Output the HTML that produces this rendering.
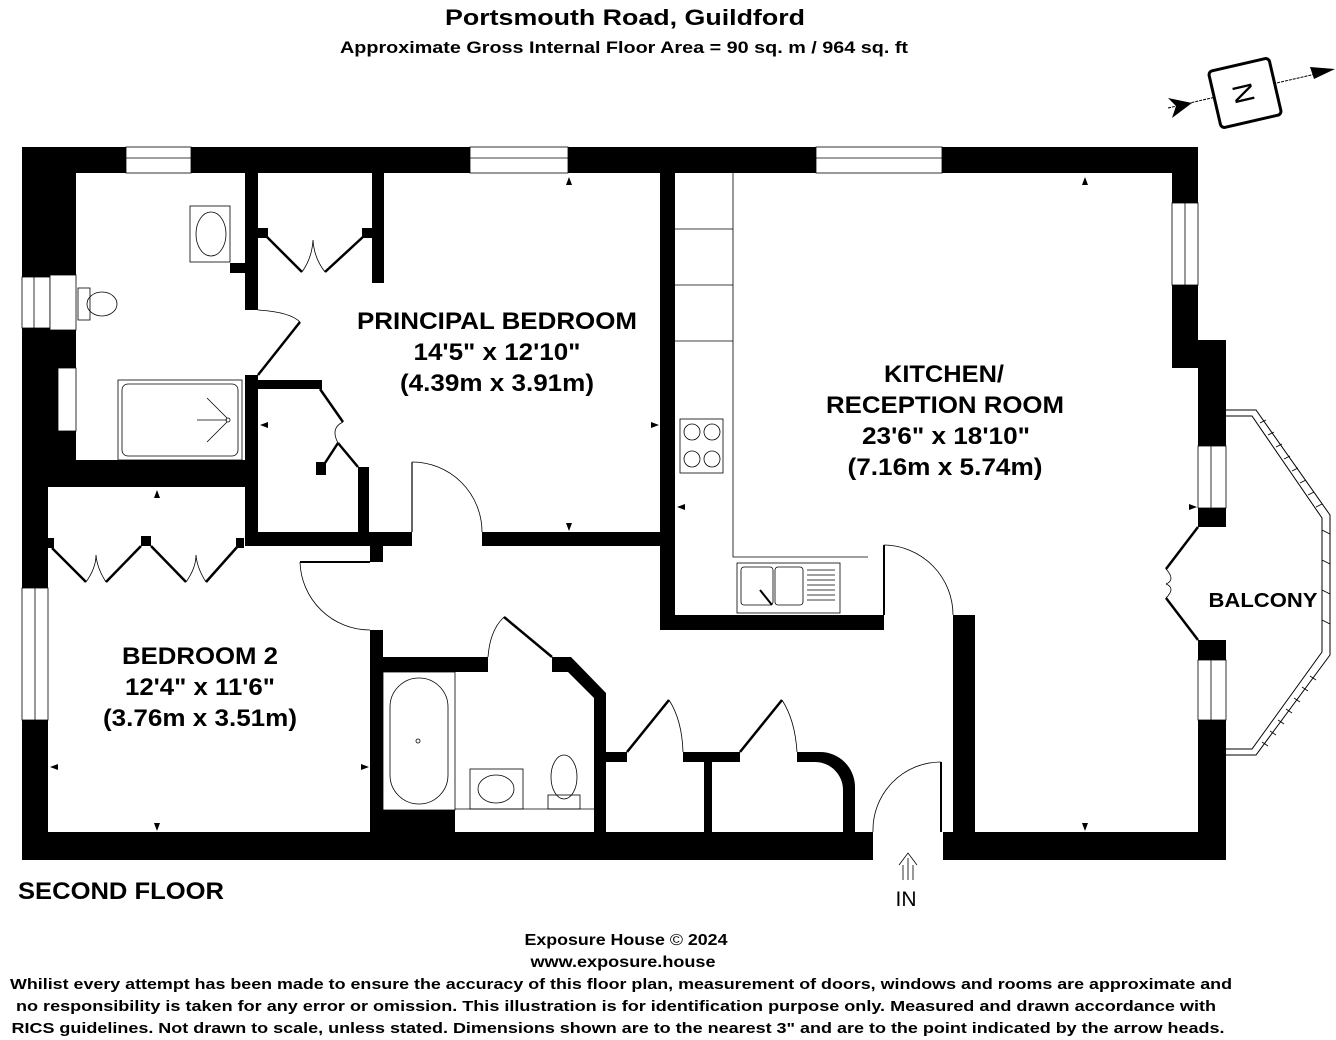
<!DOCTYPE html>
<html><head><meta charset="utf-8"><style>
html,body{margin:0;padding:0;background:#fff;}
svg{display:block;font-family:"Liberation Sans",Arial,sans-serif;}
</style></head><body>
<svg width="1336" height="1040" viewBox="0 0 1336 1040" xmlns="http://www.w3.org/2000/svg">
<g font-weight="bold" fill="#000" text-anchor="middle">
<text x="625" y="25" font-size="22" textLength="360" lengthAdjust="spacingAndGlyphs">Portsmouth Road, Guildford</text>
<text x="624" y="53" font-size="17" textLength="568" lengthAdjust="spacingAndGlyphs">Approximate Gross Internal Floor Area = 90 sq. m / 964 sq. ft</text>
</g>
<!-- compass -->
<g>
<line x1="1168" y1="108" x2="1320" y2="73" stroke="#000" stroke-width="1" stroke-dasharray="3,1"/>
<polygon points="1335,69 1310,67 1314,79" fill="#000"/>
<polygon points="1192,103 1168,98 1176,106 1172,118" fill="#000"/>
<g transform="translate(1245,93) rotate(-13)">
<rect x="-31" y="-29" width="62" height="58" rx="4" fill="#fff" stroke="#000" stroke-width="3"/>
<text x="0" y="9" transform="rotate(-90)" font-size="28" text-anchor="middle" fill="#000" dy="-1">N</text>
</g>
</g>

<!-- walls -->
<g fill="#000">
<rect x="22" y="147" width="1176" height="26"/>
<rect x="22" y="147" width="26" height="713"/>
<rect x="22" y="173" width="54" height="104"/>
<rect x="22" y="328" width="54" height="40"/>
<rect x="22" y="368" width="36" height="63"/>
<rect x="22" y="431" width="54" height="56"/>
<rect x="22" y="460" width="236" height="27"/>
<rect x="1172" y="147" width="26" height="56"/>
<rect x="1172" y="285" width="26" height="83"/>
<rect x="1198" y="340" width="28" height="106"/>
<rect x="1198" y="508" width="28" height="19"/>
<rect x="1198" y="640" width="28" height="20"/>
<rect x="1198" y="720" width="28" height="140"/>
<rect x="22" y="832" width="851" height="28"/>
<rect x="943" y="832" width="283" height="28"/>
<rect x="245" y="173" width="13" height="137"/>
<rect x="230" y="263" width="15" height="10"/>
<rect x="245" y="375" width="13" height="170"/>
<rect x="372" y="173" width="12" height="110"/>
<rect x="258" y="228" width="10" height="10"/>
<rect x="362" y="228" width="10" height="10"/>
<rect x="258" y="380" width="64" height="9"/>
<rect x="316" y="462" width="10" height="13"/>
<rect x="358" y="467" width="11" height="65"/>
<rect x="245" y="532" width="167" height="14"/>
<rect x="482" y="532" width="193" height="14"/>
<rect x="660" y="173" width="15" height="457"/>
<rect x="660" y="615" width="224" height="15"/>
<rect x="953" y="615" width="22" height="217"/>
<rect x="370" y="545" width="13" height="17"/>
<rect x="370" y="630" width="13" height="202"/>
<rect x="383" y="657" width="105" height="15"/>
<polygon points="552,657 571,657 606,693 606,832 594,832 594,698 568,672 552,672"/>
<rect x="383" y="810" width="72" height="22"/>
<rect x="606" y="752" width="21" height="10"/>
<rect x="683" y="752" width="57" height="10"/>
<rect x="704" y="752" width="8" height="80"/>
<path d="M797 752 H820 A35 35 0 0 1 855 787 V832 H843 V790 A28 28 0 0 0 815 762 H797 Z"/>
<rect x="48" y="538" width="6" height="10"/>
<rect x="141" y="536" width="10" height="10"/>
<rect x="236" y="538" width="8" height="10"/>
</g>

<!-- windows -->
<g fill="#fff" stroke="#000" stroke-width="0.8">
<rect x="126" y="147" width="65" height="26"/><line x1="126" y1="158" x2="191" y2="158"/>
<rect x="470" y="147" width="98" height="26"/><line x1="470" y1="158" x2="568" y2="158"/>
<rect x="816" y="147" width="126" height="26"/><line x1="816" y1="158" x2="942" y2="158"/>
<rect x="1172" y="203" width="26" height="82"/><line x1="1185" y1="203" x2="1185" y2="285"/>
<rect x="1198" y="446" width="28" height="62"/><line x1="1211" y1="446" x2="1211" y2="508"/>
<rect x="1198" y="660" width="28" height="60"/><line x1="1211" y1="660" x2="1211" y2="720"/>
<rect x="22" y="588" width="26" height="132"/><line x1="35" y1="588" x2="35" y2="720"/>
<rect x="22" y="277" width="28" height="51"/><line x1="34" y1="277" x2="34" y2="328"/>
<rect x="50" y="275" width="26" height="55"/>
<rect x="58" y="368" width="18" height="63"/>
</g>

<!-- balcony -->
<g fill="none" stroke="#000" stroke-width="1">
<polyline points="1226,410 1256,410 1330,515 1330,655 1256,755 1226,755"/>
<polyline points="1226,416 1252,416 1322,518 1322,652 1252,749 1226,749"/>
</g>
<g stroke="#000" stroke-width="0.8">
<line x1="1260" y1="423" x2="1266" y2="420"/><line x1="1268" y1="435" x2="1274" y2="432"/><line x1="1276" y1="447" x2="1282" y2="444"/><line x1="1284" y1="459" x2="1290" y2="456"/><line x1="1292" y1="471" x2="1298" y2="468"/><line x1="1300" y1="483" x2="1306" y2="480"/><line x1="1308" y1="495" x2="1314" y2="492"/><line x1="1316" y1="507" x2="1322" y2="504"/>
<line x1="1322" y1="530" x2="1330" y2="534"/><line x1="1322" y1="560" x2="1330" y2="564"/><line x1="1322" y1="590" x2="1330" y2="594"/><line x1="1322" y1="620" x2="1330" y2="624"/>
<line x1="1262" y1="742" x2="1268" y2="746"/><line x1="1270" y1="731" x2="1276" y2="735"/><line x1="1278" y1="720" x2="1284" y2="724"/><line x1="1286" y1="709" x2="1292" y2="713"/><line x1="1294" y1="698" x2="1300" y2="702"/><line x1="1302" y1="687" x2="1308" y2="691"/><line x1="1310" y1="676" x2="1316" y2="680"/>
</g>

<!-- doors -->
<g fill="none" stroke="#000">
<line x1="1198" y1="527" x2="1166" y2="569" stroke-width="2.5"/>
<line x1="1198" y1="640" x2="1166" y2="598" stroke-width="2.5"/>
<path d="M1166 569 Q1176 580 1166 584 M1166 598 Q1176 588 1166 584" stroke-width="0.8"/>
<line x1="258" y1="375" x2="300" y2="322" stroke-width="2.5"/>
<path d="M258 310 Q290 312 300 322" stroke-width="0.8"/>
<line x1="266" y1="236" x2="302" y2="272" stroke-width="2.5"/>
<line x1="364" y1="236" x2="325" y2="272" stroke-width="2.5"/>
<path d="M302 272 Q312 258 313 240 Q314 258 325 272" stroke-width="0.8"/>
<line x1="320" y1="389" x2="343" y2="422" stroke-width="2.5"/>
<line x1="325" y1="463" x2="338" y2="443" stroke-width="2.5"/>
<line x1="338" y1="443" x2="358" y2="467" stroke-width="2.5"/>
<path d="M343 422 Q330 428 338 443" stroke-width="0.8"/>
<line x1="412" y1="462" x2="412" y2="532" stroke-width="1.2"/>
<path d="M412 462 A70 70 0 0 1 482 532" stroke-width="0.8"/>
<line x1="300" y1="562" x2="370" y2="562" stroke-width="2"/>
<path d="M300 562 A70 70 0 0 0 370 630" stroke-width="0.8"/>
<line x1="52" y1="548" x2="86" y2="582" stroke-width="2.5"/>
<line x1="141" y1="546" x2="106" y2="582" stroke-width="2.5"/>
<line x1="151" y1="546" x2="186" y2="582" stroke-width="2.5"/>
<line x1="238" y1="546" x2="206" y2="582" stroke-width="2.5"/>
<path d="M86 582 Q96 568 96 555 Q97 568 106 582 M186 582 Q196 568 196 555 Q197 568 206 582" stroke-width="0.8"/>
<line x1="504" y1="617" x2="552" y2="657" stroke-width="2.5"/>
<path d="M488 657 Q490 630 504 617" stroke-width="0.8"/>
<line x1="627" y1="752" x2="669" y2="700" stroke-width="2.5"/>
<path d="M669 700 Q682 720 683 752" stroke-width="0.8"/>
<line x1="740" y1="752" x2="782" y2="700" stroke-width="2.5"/>
<path d="M782 700 Q795 720 797 752" stroke-width="0.8"/>
<line x1="884" y1="545" x2="884" y2="615" stroke-width="2"/>
<path d="M884 545 A70 70 0 0 1 953 615" stroke-width="0.8"/>
<line x1="941" y1="762" x2="941" y2="832" stroke-width="2"/>
<path d="M941 762 A68 68 0 0 0 873 832" stroke-width="0.8"/>
</g>

<!-- fixtures -->
<g fill="none" stroke="#000" stroke-width="0.8">
<polyline points="733,173 733,557 868,557"/>
<line x1="675" y1="229" x2="733" y2="229"/><line x1="675" y1="285" x2="733" y2="285"/><line x1="675" y1="341" x2="733" y2="341"/>
<rect x="680" y="419" width="43" height="54"/>
<circle cx="692" cy="432" r="8"/><circle cx="712" cy="432" r="8"/><circle cx="692" cy="459" r="8"/><circle cx="712" cy="459" r="8"/>
<rect x="737" y="563" width="103" height="50"/>
<rect x="741" y="567" width="32" height="38" rx="3"/><rect x="775" y="567" width="28" height="38" rx="3"/>
<path d="M807 570 H835 M807 575 H835 M807 580 H835 M807 585 H835 M807 590 H835 M807 595 H835 M807 600 H835"/>
<line x1="760" y1="590" x2="772" y2="605" stroke-width="2"/>
<rect x="118" y="380" width="124" height="80"/>
<rect x="122" y="384" width="116" height="72" rx="6"/>
<line x1="197" y1="420" x2="227" y2="420"/><line x1="207" y1="398" x2="227" y2="418"/><line x1="207" y1="442" x2="227" y2="422"/>
<circle cx="228" cy="420" r="2"/>
<rect x="190" y="206" width="40" height="56"/>
<ellipse cx="211" cy="234" rx="15" ry="22"/>
<rect x="78" y="288" width="12" height="32"/>
<ellipse cx="102" cy="304" rx="15" ry="12"/>
<rect x="383" y="672" width="72" height="138"/>
<rect x="390" y="678" width="58" height="126" rx="29"/>
<circle cx="418" cy="741" r="2"/>
<line x1="455" y1="809" x2="594" y2="809"/>
<rect x="470" y="769" width="53" height="40"/>
<ellipse cx="496" cy="789" rx="18" ry="14"/>
<ellipse cx="564" cy="777" rx="13" ry="22"/>
<rect x="548" y="795" width="32" height="14"/>
</g>

<!-- dimension arrowheads -->
<g fill="#000">
<polygon points="569,177 566,185 572,185"/><polygon points="569,531 566,523 572,523"/>
<polygon points="260,425 268,422 268,428"/><polygon points="659,425 651,422 651,428"/>
<polygon points="1085,177 1082,185 1088,185"/><polygon points="1085,831 1082,823 1088,823"/>
<polygon points="677,507 685,504 685,510"/><polygon points="1197,507 1189,504 1189,510"/>
<polygon points="157,490 154,498 160,498"/><polygon points="157,831 154,823 160,823"/>
<polygon points="50,767 58,764 58,770"/><polygon points="369,767 361,764 361,770"/>
</g>

<g fill="none" stroke="#000" stroke-width="0.8">
<path d="M908 880 V858 M899 865 L908 853 L917 865 M903 865 V880 M913 865 V880"/>
</g>

<!-- labels -->
<g font-weight="bold" fill="#000" text-anchor="middle" font-size="24" lengthAdjust="spacingAndGlyphs">
<text x="497" y="329" textLength="280" lengthAdjust="spacingAndGlyphs">PRINCIPAL BEDROOM</text>
<text x="497" y="360" textLength="167" lengthAdjust="spacingAndGlyphs">14'5" x 12'10"</text>
<text x="497" y="391" textLength="194" lengthAdjust="spacingAndGlyphs">(4.39m x 3.91m)</text>
<text x="944" y="382" textLength="120" lengthAdjust="spacingAndGlyphs">KITCHEN/</text>
<text x="945" y="413" textLength="238" lengthAdjust="spacingAndGlyphs">RECEPTION ROOM</text>
<text x="946" y="444" textLength="168" lengthAdjust="spacingAndGlyphs">23'6" x 18'10"</text>
<text x="945" y="475" textLength="195" lengthAdjust="spacingAndGlyphs">(7.16m x 5.74m)</text>
<text x="200" y="664" textLength="156" lengthAdjust="spacingAndGlyphs">BEDROOM 2</text>
<text x="200" y="695" textLength="150" lengthAdjust="spacingAndGlyphs">12'4" x 11'6"</text>
<text x="200" y="726" textLength="194" lengthAdjust="spacingAndGlyphs">(3.76m x 3.51m)</text>
<text x="1263" y="607" font-size="20" textLength="109" lengthAdjust="spacingAndGlyphs">BALCONY</text>
<text x="121" y="899" textLength="206" lengthAdjust="spacingAndGlyphs">SECOND FLOOR</text>
</g>
<text x="906" y="906" font-size="21" text-anchor="middle" fill="#000">IN</text>

<!-- footer -->
<g font-weight="bold" fill="#000" font-size="16" text-anchor="middle">
<text x="626" y="945" textLength="203" lengthAdjust="spacingAndGlyphs">Exposure House <tspan font-weight="normal">©</tspan> 2024</text>
<text x="623" y="967" textLength="185" lengthAdjust="spacingAndGlyphs">www.exposure.house</text>
<text x="621" y="989" font-size="15" textLength="1222" lengthAdjust="spacingAndGlyphs">Whilist every attempt has been made to ensure the accuracy of this floor plan, measurement of doors, windows and rooms are approximate and</text>
<text x="616" y="1011" font-size="15" textLength="1200" lengthAdjust="spacingAndGlyphs">no responsibility is taken for any error or omission. This illustration is for identification purpose only. Measured and drawn accordance with</text>
<text x="618" y="1033" font-size="15" textLength="1213" lengthAdjust="spacingAndGlyphs">RICS guidelines. Not drawn to scale, unless stated. Dimensions shown are to the nearest 3" and are to the point indicated by the arrow heads.</text>
</g>
</svg>
</body></html>
